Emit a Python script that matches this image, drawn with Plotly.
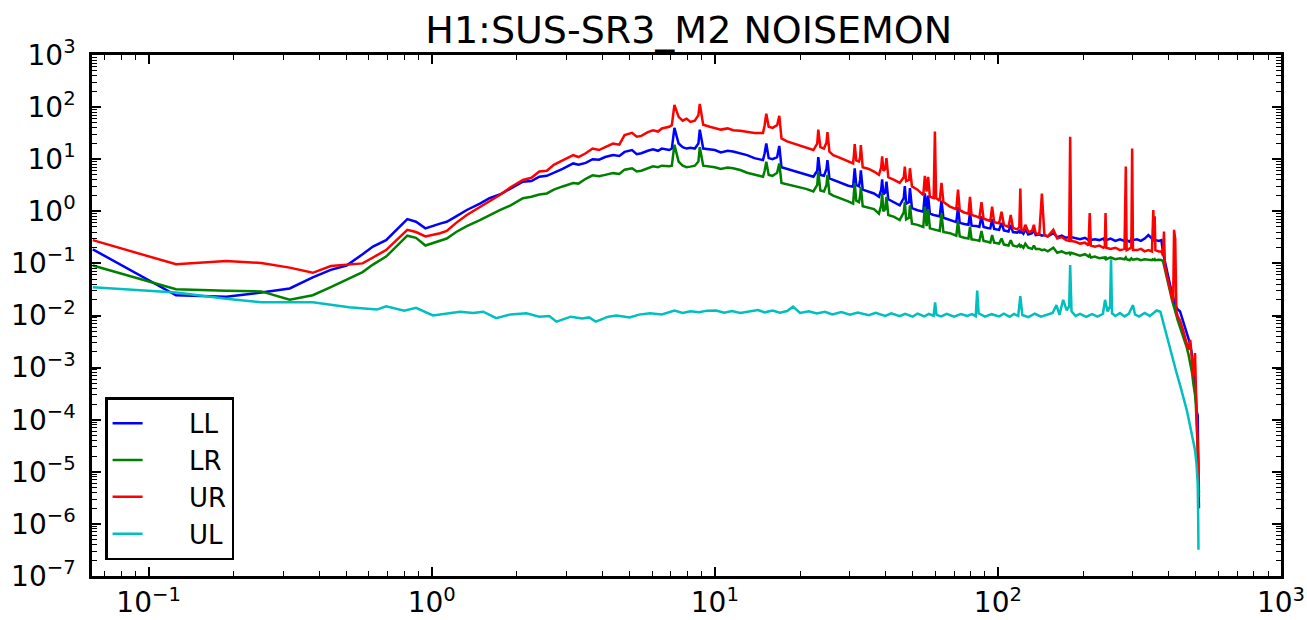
import plotly.graph_objects as go

# shared frequency grid (Hz) for the LL, LR and UR channels
freq = [
    0.0635, 0.125, 0.188, 0.25, 0.315, 0.38, 0.44, 0.50, 0.57, 0.62, 0.69, 0.82, 0.88, 0.95, 1.07, 1.13, 1.22, 1.33, 1.48,
    1.6, 1.74, 1.9, 2.1, 2.25, 2.4, 2.55, 2.7, 2.9, 3.16, 3.3, 3.5, 3.7, 3.9, 4.1, 4.37, 4.6, 4.8, 5.1, 5.3, 5.5, 5.8, 6.05, 6.3, 6.5, 6.9,
    7.05, 7.2, 7.45, 7.7, 7.95, 8.2, 8.5, 8.75, 8.85, 9.1,
    9.6, 10, 10.5, 11.1, 11.6, 12.3, 13, 13.8, 14.8, 15.0, 15.2, 15.5, 16.0, 16.6, 16.9, 17.2,
    18, 19, 20, 21, 22.3, 23.0, 23.2, 23.6, 24.3, 24.8, 25.0, 25.4, 26.2, 27.3, 28.5, 29.6, 30.8, 31.0, 31.2, 31.6, 32.3, 32.6, 32.8, 33.3,
    35, 36.5, 38, 38.7, 39.0, 39.4, 40.0, 40.4, 41, 43, 45, 46.5, 46.9, 47.4, 48.5, 48.9, 49.7, 52, 54.5, 55.2, 56, 56.7, 57.5, 59.3, 59.9, 60.5, 62.3, 63.2, 64.2,
    67.7, 71.3, 72.3, 73.3, 76, 78.7, 79.7, 80.7, 84, 86, 87.5, 89, 92, 94, 95.4, 97, 101, 103, 105, 109, 111, 113, 117, 119, 120, 121, 123, 125, 128, 132, 134, 136,
    140, 143, 146, 150, 157, 162, 168, 174, 178.5, 180, 181.5, 188, 195, 203, 209, 211, 213, 220, 228, 236, 238.5, 240, 241.5, 250, 260,
    270, 280, 283, 285, 292, 296, 298, 300, 310, 320, 330, 340, 350, 352, 354, 356, 358, 360, 370, 378,
    383, 386, 389, 395, 405, 412, 416, 419, 423, 427, 432, 440, 452, 464, 471, 478, 485, 490, 494, 497, 500, 503, 508, 513,
]

ll = [
    0.186, 0.0245, 0.023, 0.0275, 0.033, 0.054, 0.075, 0.091, 0.15, 0.21, 0.28, 0.71, 0.63, 0.47, 0.58, 0.63, 0.80, 1.06, 1.4,
    1.78, 2.1, 2.7, 3.7, 3.8, 4.6, 4.8, 5.5, 6.5, 8.3, 7.8, 8.5, 10, 9.8, 11, 12, 11.5, 13.8, 15, 12.5, 13, 14.5, 15.5, 14.5, 16, 15,
    16, 40, 20, 17, 16, 16.5, 16, 20, 37, 16,
    15.5, 15, 13.5, 14.5, 14, 13, 12, 10.5, 9.6, 13, 20, 10.5, 10, 11, 18, 7.0,
    6.5, 6.0, 5.6, 5.2, 4.6, 6, 11, 5.0, 4.8, 6.5, 9.6, 4.3, 4.0, 3.7, 3.4, 3.1, 2.96, 4, 6.7, 3.2, 3.0, 4, 6.1, 2.6,
    2.4, 2.2, 1.9, 2.6, 4.1, 2.1, 2.3, 3.7, 1.7, 1.5, 1.3, 1.8, 3.05, 1.4, 1.5, 2.8, 1.15, 1.05, 0.98, 2.2, 1.0, 2.0, 0.9, 0.85, 0.85, 0.83, 0.8, 1.6, 0.75,
    0.68, 0.62, 1.2, 0.6, 0.57, 0.55, 0.95, 0.53, 0.52, 0.5, 0.8, 0.5, 0.48, 0.47, 0.7, 0.46, 0.44, 0.6, 0.43, 0.41, 0.55, 0.4, 0.39, 0.42, 0.38, 0.41, 0.37, 0.45, 0.36, 0.38, 0.44, 0.35,
    0.36, 0.34, 0.35, 0.33, 0.38, 0.32, 0.34, 0.31, 0.32, 0.3, 0.32, 0.3, 0.29, 0.31, 0.28, 0.3, 0.28, 0.29, 0.28, 0.3, 0.27, 0.29, 0.28, 0.3, 0.27,
    0.29, 0.27, 0.3, 0.28, 0.26, 0.29, 0.27, 0.28, 0.29, 0.27, 0.3, 0.35, 0.3, 0.27, 0.28, 0.29, 0.27, 0.28, 0.27, 0.28,
    0.16, 0.13, 0.1, 0.07, 0.04, 0.027, 0.022, 0.019, 0.016, 0.0145, 0.013, 0.012, 0.0075, 0.0048, 0.0036, 0.0028, 0.0017, 0.0011, 0.0008, 0.0005, 0.0003, 0.00015, 0.00012, 0.000002,
]

lr = [
    0.091, 0.032, 0.030, 0.029, 0.020, 0.0245, 0.035, 0.048, 0.068, 0.095, 0.135, 0.34, 0.31, 0.22, 0.27, 0.30, 0.40, 0.52, 0.68,
    0.85, 1.05, 1.3, 1.78, 1.9, 2.1, 2.2, 2.6, 3.0, 3.5, 3.4, 4.2, 4.9, 4.7, 5.0, 5.4, 5.2, 6.3, 6.7, 5.8, 6.0, 6.8, 7.3, 7.0, 7.5, 7.3,
    7.5, 19, 9, 7.5, 7, 7.2, 7.5, 9, 17, 7.5,
    7.3, 7, 6.5, 6.9, 6.7, 6.2, 5.5, 5.0, 4.6, 6, 8.9, 5.0, 4.8, 5.5, 8.3, 3.5,
    3.3, 3.0, 2.85, 2.7, 2.4, 3.2, 5.8, 2.5, 2.4, 3.2, 5.0, 2.2, 2.0, 1.85, 1.7, 1.55, 1.4, 2.0, 3.5, 1.6, 1.5, 2.0, 2.96, 1.25,
    1.15, 1.1, 0.9, 1.3, 2.2, 1.0, 1.1, 1.9, 0.85, 0.78, 0.68, 0.95, 1.5, 0.7, 0.75, 1.3, 0.58, 0.55, 0.5, 1.23, 0.52, 1.1, 0.47, 0.45, 0.45, 0.44, 0.42, 0.9, 0.4,
    0.38, 0.34, 0.65, 0.33, 0.31, 0.3, 0.5, 0.29, 0.28, 0.27, 0.42, 0.27, 0.26, 0.25, 0.35, 0.25, 0.24, 0.3, 0.23, 0.22, 0.28, 0.22, 0.21, 0.23, 0.21, 0.22, 0.2, 0.24, 0.2, 0.19, 0.22, 0.19,
    0.19, 0.18, 0.185, 0.17, 0.2, 0.16, 0.17, 0.155, 0.16, 0.15, 0.16, 0.15, 0.14, 0.15, 0.135, 0.145, 0.13, 0.135, 0.126, 0.13, 0.125, 0.135, 0.12, 0.13, 0.12,
    0.125, 0.12, 0.13, 0.12, 0.115, 0.125, 0.12, 0.118, 0.122, 0.115, 0.12, 0.118, 0.115, 0.12, 0.118, 0.116, 0.12, 0.115, 0.118, 0.116,
    0.11, 0.09, 0.075, 0.05, 0.03, 0.02, 0.016, 0.014, 0.012, 0.01, 0.008, 0.006, 0.004, 0.0025, 0.0018, 0.0012, 0.0008, 0.0005, 0.0004, 0.0003, 0.0002, 0.0001, 0.00003, 0.000004,
]

ur = [
    0.28, 0.096, 0.111, 0.102, 0.083, 0.066, 0.089, 0.095, 0.10, 0.13, 0.18, 0.44, 0.40, 0.33, 0.38, 0.42, 0.60, 0.85, 1.2,
    1.6, 2.05, 2.9, 4.0, 4.4, 5.8, 6.0, 7.8, 9.5, 12, 11, 13, 16, 15, 17, 20, 19, 29, 32, 27, 28, 33, 36, 34, 39, 42,
    45, 110, 65, 55, 60, 52, 55, 70, 115, 46,
    42, 40, 37, 39, 36, 35, 34, 32, 32, 45, 75, 42, 40, 45, 68, 25,
    22, 20, 18.5, 17, 15, 20, 37, 17, 16, 21, 33, 14, 12, 11, 10, 9.2, 8.3, 12, 19.5, 9.5, 9.0, 11, 18.7, 7.0,
    6.5, 5.8, 5.0, 7, 11.3, 6.0, 6.5, 10.5, 4.5, 4.0, 3.5, 4.5, 7.2, 3.8, 4.0, 6.7, 3.0, 2.6, 2.05, 4.8, 2.4, 4.6, 1.9, 1.8, 34, 1.8, 1.6, 3.5, 1.5,
    1.23, 1.1, 2.6, 1.05, 0.95, 0.9, 1.9, 0.85, 0.8, 0.75, 1.5, 0.72, 0.68, 0.65, 1.23, 0.62, 0.59, 0.98, 0.55, 0.5, 0.85, 0.48, 0.45, 0.5, 2.75, 0.45, 0.42, 0.55, 0.4, 0.42, 0.55, 0.38,
    0.36, 2.2, 0.35, 0.33, 0.44, 0.3, 0.32, 0.28, 0.27, 27, 0.27, 0.26, 0.24, 0.25, 0.22, 0.93, 0.22, 0.21, 0.22, 0.2, 0.21, 0.93, 0.2, 0.19, 0.2,
    0.18, 0.19, 7.2, 0.18, 0.19, 0.2, 16, 0.18, 0.18, 0.19, 0.17, 0.18, 0.17, 0.6, 1.06, 0.3, 0.8, 0.18, 0.17, 0.17,
    0.14, 0.41, 0.09, 0.06, 0.031, 0.022, 0.018, 0.44, 0.3, 0.012, 0.0095, 0.008, 0.005, 0.003, 0.0022, 0.0034, 0.0013, 0.00068, 0.0012, 0.0019, 0.0005, 0.00018, 0.00002, 0.0000033,
]

# UL channel has its own frequency points
ul_freq = [
    0.0635, 0.125, 0.188, 0.25, 0.38, 0.51, 0.64, 0.69, 0.80, 0.88, 1.01, 1.13, 1.26, 1.4, 1.52, 1.69, 1.9, 2.16, 2.4, 2.6,
    2.76, 3.1, 3.4, 3.6, 3.8, 4.2, 4.5, 5.0, 5.4, 5.9, 6.5, 7.2, 7.7, 8.2, 8.8, 9.4, 10.1, 10.8, 11.5, 12.3,
    13.3, 14.2, 15, 16, 17, 18, 18.9, 20, 21.5, 22.9, 24.5, 26, 28, 30, 32, 35, 37, 40, 42, 45,
    47, 50, 52, 55, 57, 59.3, 60, 60.7, 63, 66, 70, 74, 78, 81, 83.5, 84.5, 85.5, 90, 95, 101,
    105, 110, 114, 118, 120, 122, 128, 135, 142, 150, 156, 161, 165, 170, 175, 178.5, 180, 182, 188, 195,
    205, 215, 225, 235, 239, 244, 249, 251, 253, 260, 270, 280, 290, 300, 305, 315, 330, 344, 355, 364,
    375, 384, 395, 405, 416, 428, 440, 452, 465, 478, 488, 497, 503, 508, 510, 511,
]

ul = [
    0.035, 0.0275, 0.021, 0.018, 0.018, 0.0144, 0.013, 0.015, 0.0123, 0.014, 0.010, 0.011, 0.0118, 0.0112, 0.0118, 0.0089, 0.0105, 0.011, 0.0095, 0.0098,
    0.0076, 0.0095, 0.0088, 0.0092, 0.0076, 0.0095, 0.0100, 0.0092, 0.0104, 0.011, 0.0105, 0.0125, 0.0112, 0.0121, 0.0115, 0.0124, 0.0125, 0.0113, 0.0122, 0.0112,
    0.0118, 0.0127, 0.0115, 0.0124, 0.0113, 0.0122, 0.0148, 0.0112, 0.0121, 0.0109, 0.0118, 0.0105, 0.0116, 0.0104, 0.0114, 0.0101, 0.0113, 0.0098, 0.011, 0.0097,
    0.0108, 0.0095, 0.0109, 0.0096, 0.0107, 0.0099, 0.0178, 0.0103, 0.0096, 0.0108, 0.0095, 0.0107, 0.0098, 0.0106, 0.0097, 0.030, 0.011, 0.0095, 0.0106, 0.0096,
    0.0108, 0.0094, 0.0107, 0.0098, 0.0235, 0.0102, 0.0093, 0.0108, 0.0095, 0.0106, 0.0112, 0.0158, 0.0103, 0.020, 0.0125, 0.015, 0.093, 0.012, 0.0098, 0.0107,
    0.0094, 0.0106, 0.0095, 0.0108, 0.020, 0.012, 0.015, 0.12, 0.011, 0.0098, 0.0112, 0.0096, 0.0108, 0.0158, 0.0105, 0.0095, 0.0112, 0.0098, 0.0113, 0.0125,
    0.0118, 0.0071, 0.0042, 0.0025, 0.0014, 0.00078, 0.00046, 0.00028, 0.00015, 0.000074, 0.000042, 0.000026, 0.000014, 0.000006, 0.0000012, 0.00000032,
]

x_ticks = [0.1, 1, 10, 100, 1000]
x_labels = ["10<sup>\u22121</sup>", "10<sup>0</sup>", "10<sup>1</sup>", "10<sup>2</sup>", "10<sup>3</sup>"]
y_ticks = [1e-7, 1e-6, 1e-5, 1e-4, 1e-3, 1e-2, 1e-1, 1, 10, 100, 1000]
y_labels = ["10<sup>\u2212%d</sup>" % p for p in range(7, 0, -1)] + ["10<sup>%d</sup>" % p for p in range(0, 4)]

x_minor = [m * 10 ** k for k in range(-2, 3) for m in range(2, 10)]
y_minor = [m * 10 ** k for k in range(-7, 3) for m in range(2, 10)]

pad = "\u00a0" * 5  # pushes legend labels right, like the matplotlib legend

fig = go.Figure()
for name, y, color in [("LL", ll, "#0000ff"), ("LR", lr, "#008000"), ("UR", ur, "#ff0000")]:
    fig.add_trace(go.Scatter(x=freq, y=y, name=pad + name, mode="lines",
                             line=dict(color=color, width=2.5)))
fig.add_trace(go.Scatter(x=ul_freq, y=ul, name=pad + "UL", mode="lines",
                         line=dict(color="#00bfbf", width=2.5)))

axis_style = dict(
    type="log", showgrid=False, zeroline=False, automargin=False,
    showline=True, linecolor="black", linewidth=2.5, mirror="allticks",
    ticks="inside", ticklen=9, tickwidth=1.5, tickcolor="black",
    tickfont=dict(family="DejaVu Sans", size=28, color="black"),
)

fig.update_xaxes(
    range=[-1.2, 3], tickmode="array", tickvals=x_ticks, ticktext=x_labels,
    minor=dict(tickmode="array", tickvals=x_minor, ticks="inside", ticklen=5, tickwidth=1.2, tickcolor="black"),
    ticklabelstandoff=0,
    **axis_style
)
fig.update_yaxes(
    range=[-7, 3], tickmode="array", tickvals=y_ticks, ticktext=y_labels,
    minor=dict(tickmode="array", tickvals=y_minor, ticks="inside", ticklen=5, tickwidth=1.2, tickcolor="black"),
    ticklabelstandoff=8,
    **axis_style
)

fig.update_layout(
    width=1307, height=620,
    margin=dict(l=92, r=26, t=55, b=44),
    paper_bgcolor="white", plot_bgcolor="white",
    title=dict(text="H1:SUS-SR3_M2 NOISEMON", x=0.527, xanchor="center",
               yref="container", y=0.952, yanchor="middle",
               font=dict(family="DejaVu Sans", size=38, color="black")),
    legend=dict(x=0.011, y=0.03, xanchor="left", yanchor="bottom",
                bordercolor="black", borderwidth=2.5, bgcolor="white",
                font=dict(family="DejaVu Sans", size=26, color="black")),
)

# drop the default page margin so the figure sits at the window's corner
fig.write_html("out.html", config={"displayModeBar": False},
               post_script="document.body.style.margin='0';document.body.style.overflow='hidden';")
